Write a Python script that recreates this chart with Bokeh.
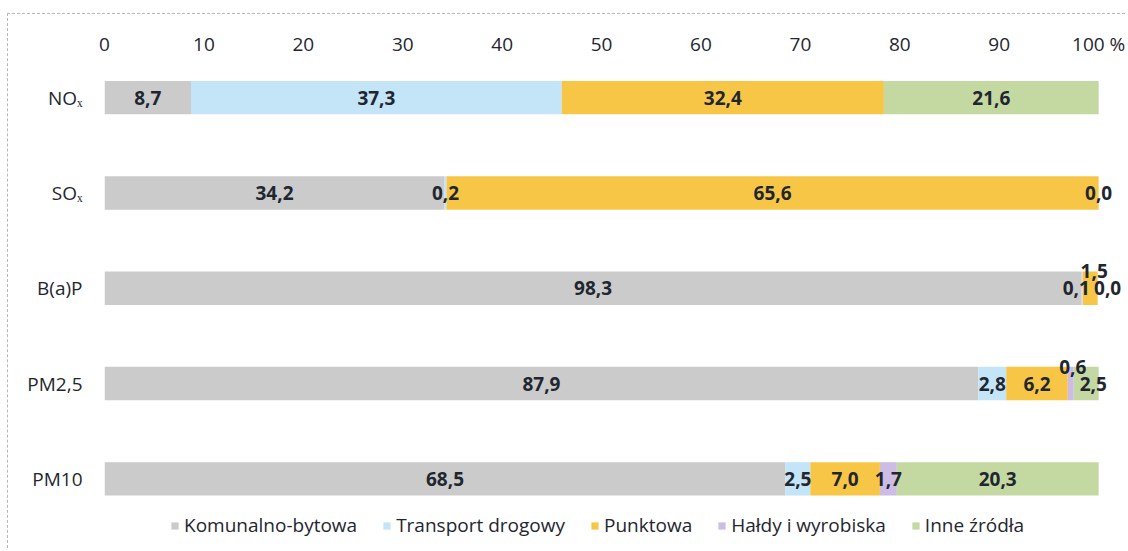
from bokeh.plotting import figure
from bokeh.models import (Range1d, FixedTicker, Legend, LegendItem, ColumnDataSource,
                          LabelSet)
from bokeh.core.properties import value
from bokeh.embed import file_html
from bokeh.resources import INLINE

# ---- data ----
pollutants = ["NOₓ", "SOₓ", "B(a)P", "PM2,5", "PM10"]
series_names = ["Komunalno-bytowa", "Transport drogowy", "Punktowa", "Hałdy i wyrobiska", "Inne źródła"]
komunalno = [8.7, 34.2, 98.3, 87.9, 68.5]
transport = [37.3, 0.2, 0.1, 2.8, 2.5]
punktowa = [32.4, 65.6, 1.5, 6.2, 7.0]
haldy = [None, None, None, 0.6, 1.7]
inne = [21.6, 0.0, 0.0, 2.5, 20.3]
x_ticks = [0, 10, 20, 30, 40, 50, 60, 70, 80, 90, 100]

# ---- styling ----
colors = ["#cbcbcb", "#c4e4f8", "#f7c646", "#cdbde4", "#c4d8a2"]
text_color = "#1f2630"
FONT = "Open Sans"
# manual nudges of crowded labels: (row, series) -> (dx px, dy px; positive dy = up)
label_nudge = {
    (2, 1): (-6, 0),
    (2, 2): (4, 17),
    (2, 4): (10, 0),
    (3, 3): (2, 17),
    (3, 4): (7, 0),
}

p = figure(width=1118, height=535, output_backend="svg", toolbar_location=None,
           x_range=Range1d(0, 102.4), y_range=Range1d(4.71, -0.39),
           x_axis_location="above", min_border_left=96, min_border_right=4,
           min_border_top=46, min_border_bottom=3)
p.outline_line_color = None
p.xgrid.grid_line_color = None
p.ygrid.grid_line_color = None
p.background_fill_color = "white"
p.border_fill_color = "white"

series = [komunalno, transport, punktowa, haldy, inne]
ys = list(range(len(pollutants)))
cum = [0.0] * len(pollutants)
renderers = []
lab_x, lab_y, lab_t, lab_dx, lab_dy = [], [], [], [], []
for si, vals in enumerate(series):
    left = []
    right = []
    for ri, v in enumerate(vals):
        vv = 0.0 if v is None else v
        left.append(cum[ri])
        right.append(cum[ri] + vv)
        if v is not None:
            lab_x.append(cum[ri] + vv / 2)
            lab_y.append(ri)
            lab_t.append(f"{v:.1f}".replace(".", ","))
            dx, dy = label_nudge.get((ri, si), (0, 0))
            lab_dx.append(dx)
            lab_dy.append(dy)
        cum[ri] += vv
    src = ColumnDataSource(dict(y=ys, left=left, right=right))
    r = p.hbar(y="y", left="left", right="right", height=0.35, source=src,
               fill_color=colors[si], line_color=None)
    renderers.append(r)

lsrc = ColumnDataSource(dict(x=lab_x, y=lab_y, t=lab_t, dx=lab_dx, dy=lab_dy))
labels = LabelSet(x="x", y="y", text="t", x_offset="dx", y_offset="dy", source=lsrc,
                  text_align="center", text_baseline="middle",
                  text_font=value(FONT), text_font_size="19px", text_font_style="bold",
                  text_color=text_color)
p.add_layout(labels)

# x axis (top)
xa = p.xaxis[0]
xa.ticker = FixedTicker(ticks=x_ticks)
xa.major_label_overrides = {100: "100 %"}
xa.axis_line_color = None
xa.major_tick_line_color = None
xa.minor_tick_line_color = None
xa.major_label_standoff = -2
xa.major_label_text_font = FONT
xa.major_label_text_font_size = "19px"
xa.major_label_text_color = text_color

# y axis
ya = p.yaxis[0]
ya.ticker = FixedTicker(ticks=ys)
ya.major_label_overrides = {i: n for i, n in enumerate(pollutants)}
ya.axis_line_color = None
ya.major_tick_line_color = None
ya.minor_tick_line_color = None
ya.major_label_standoff = 16
ya.major_label_text_font = FONT
ya.major_label_text_font_size = "19px"
ya.major_label_text_color = text_color

legend = Legend(items=[LegendItem(label=n, renderers=[r]) for n, r in zip(series_names, renderers)],
                orientation="horizontal", location=(66, 8),
                label_text_font=FONT, label_text_font_size="19px", label_text_color=text_color,
                glyph_width=9, glyph_height=9, label_standoff=5, spacing=25,
                border_line_color=None, background_fill_alpha=0, padding=0, margin=0)
p.add_layout(legend)

p.styles = {"border-top": "1px dashed #b8b8b8", "border-left": "1px dashed #b8b8b8",
            "margin-top": "13px", "margin-left": "7px"}

open("out.html", "w").write(file_html(p, INLINE))
